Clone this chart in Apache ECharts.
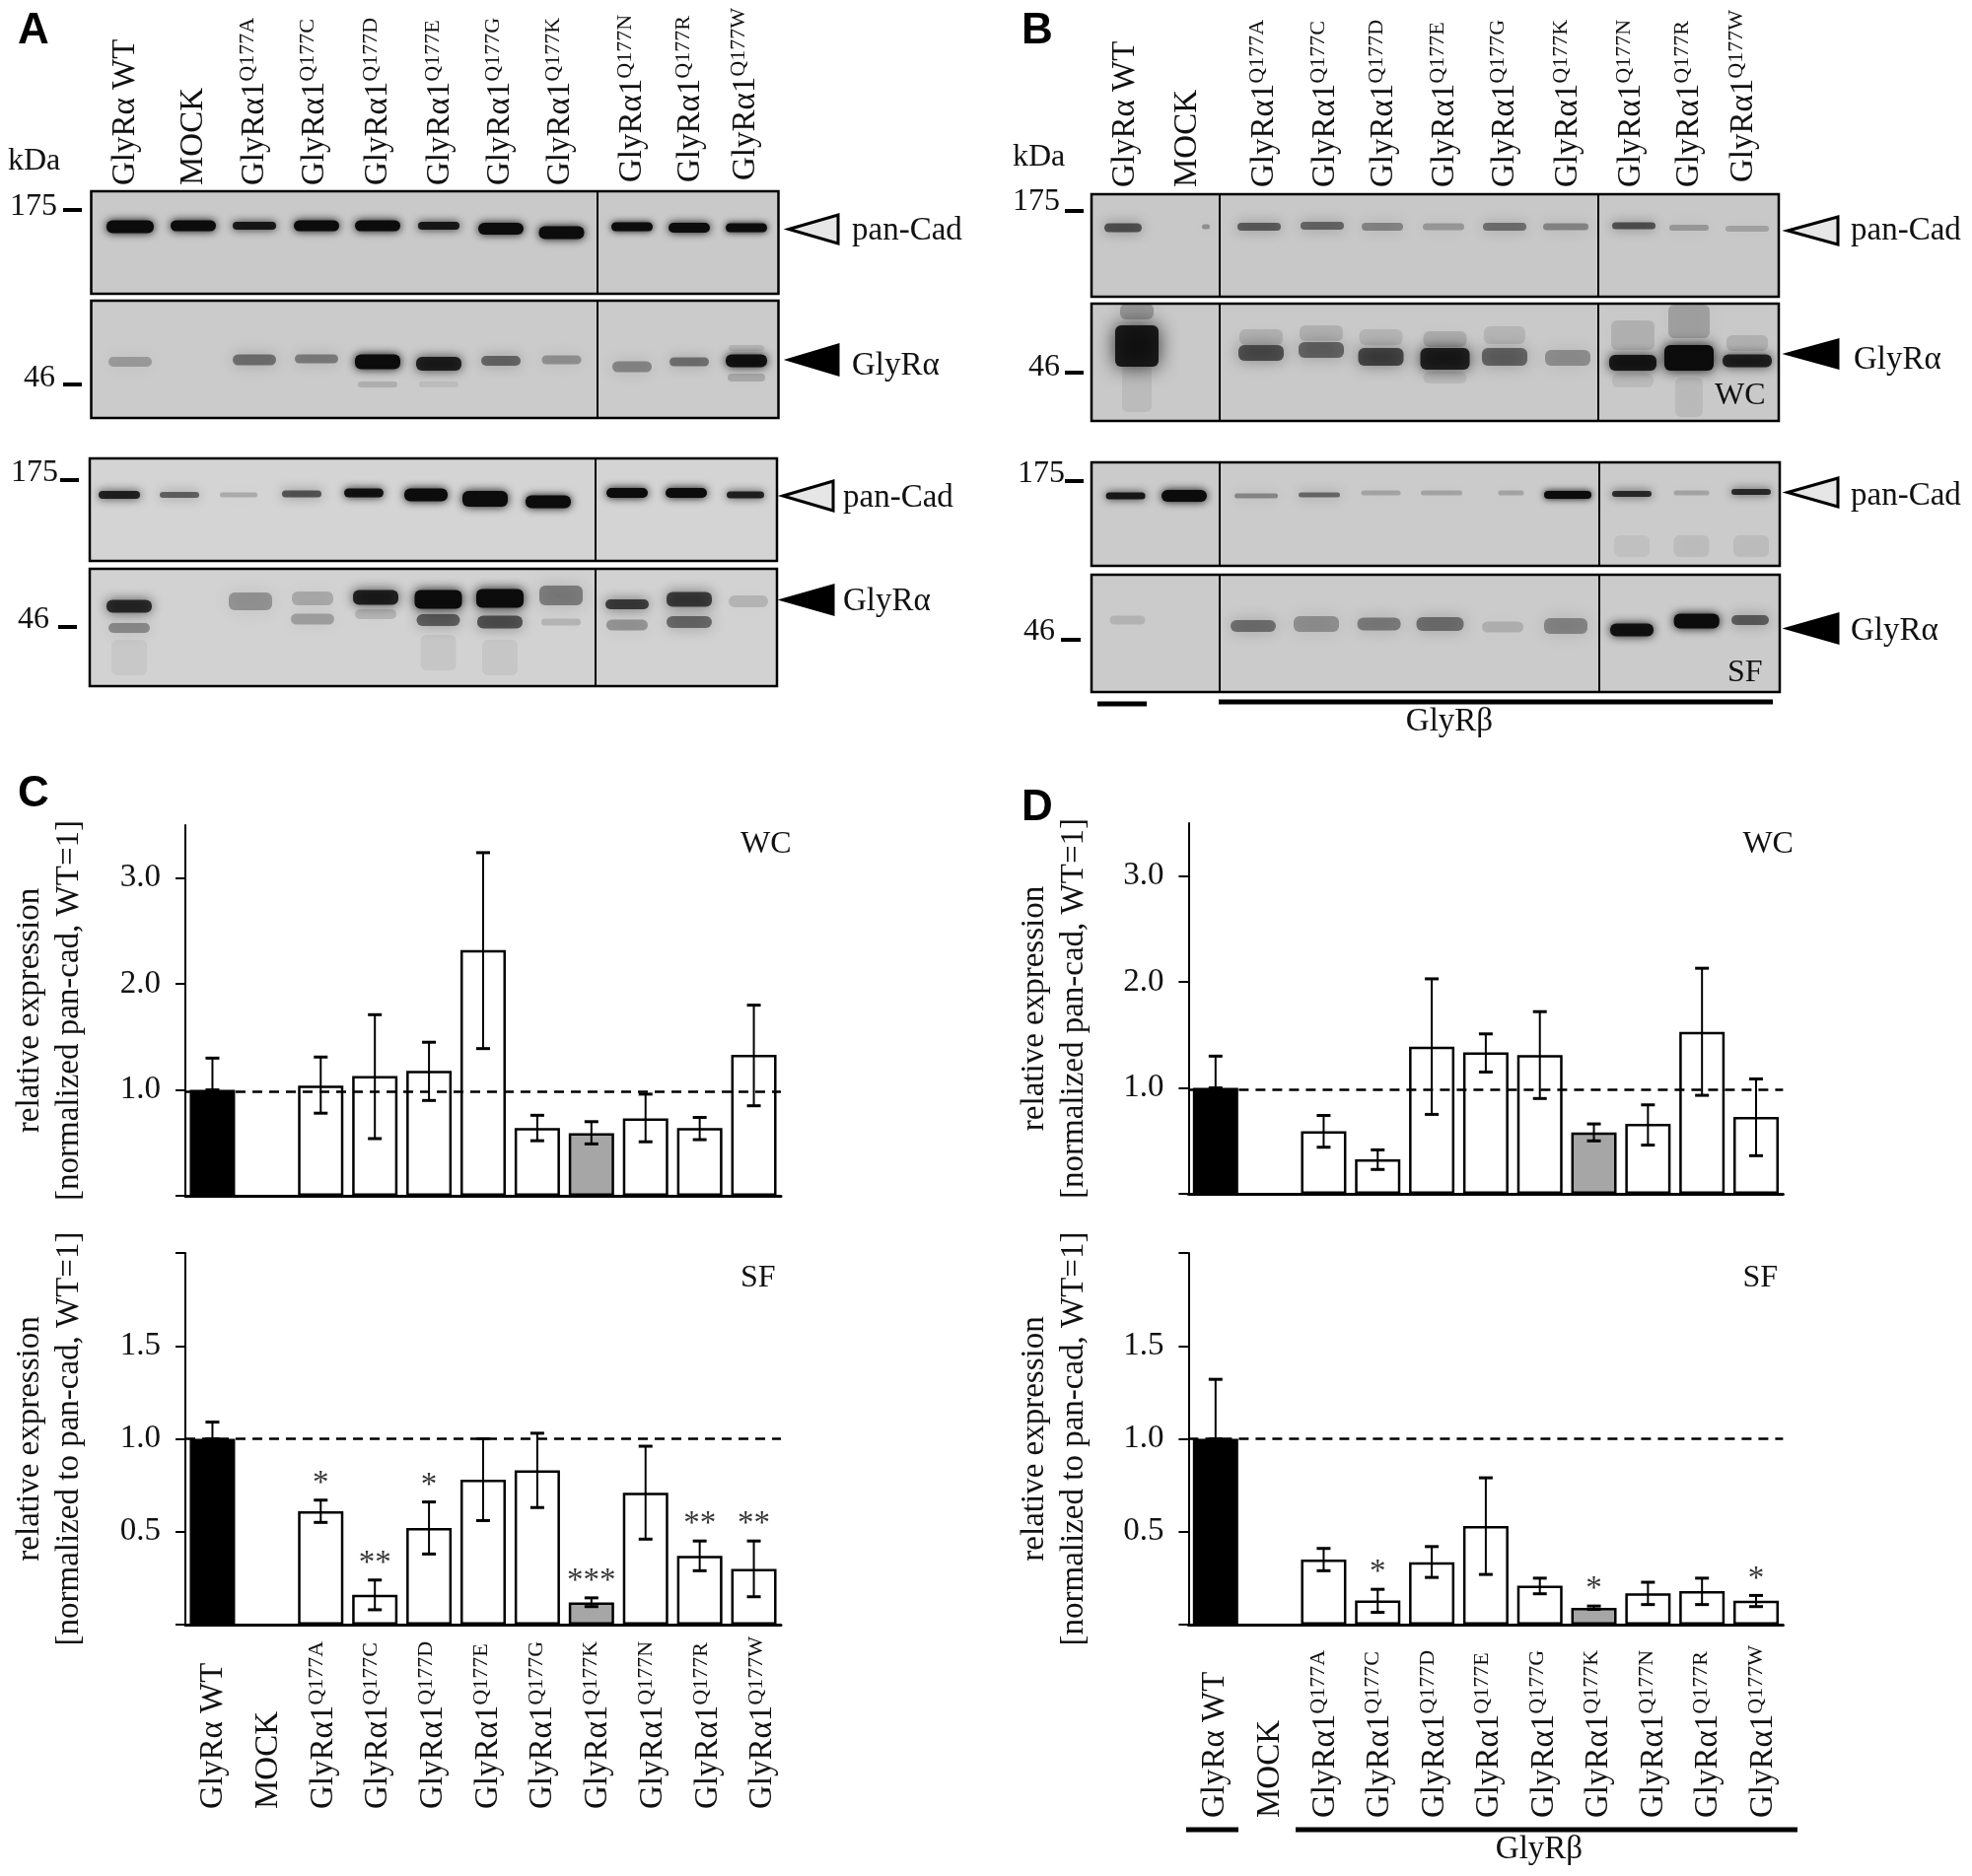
<!DOCTYPE html>
<html>
<head>
<meta charset="utf-8">
<title>GlyR expression</title>
<script src="https://cdn.jsdelivr.net/npm/echarts@6/dist/echarts.min.js"></script>
<style>
  html, body { margin: 0; padding: 0; background: #fff; }
  #main { width: 2000px; height: 1903px; }
</style>
</head>
<body>
<div id="main"></div>
<script>
// categories
const lanes = ['GlyRα WT', 'MOCK', 'Q177A', 'Q177C', 'Q177D', 'Q177E', 'Q177G', 'Q177K', 'Q177N', 'Q177R', 'Q177W'];

// panel C, whole cell
const cWcValue = [1.0, null, 1.04, 1.13, 1.18, 2.32, 0.64, 0.59, 0.73, 0.64, 1.33];
const cWcHi = [1.30, null, 1.31, 1.71, 1.45, 3.24, 0.76, 0.70, 0.96, 0.74, 1.80];
const cWcLo = [1.0, null, 0.78, 0.54, 0.90, 1.39, 0.52, 0.49, 0.51, 0.53, 0.85];
// panel C, surface
const cSfValue = [1.0, null, 0.61, 0.16, 0.52, 0.78, 0.83, 0.12, 0.71, 0.37, 0.30];
const cSfHi = [1.09, null, 0.67, 0.24, 0.66, 1.0, 1.03, 0.144, 0.96, 0.45, 0.45];
const cSfLo = [1.0, null, 0.55, 0.08, 0.38, 0.56, 0.63, 0.097, 0.46, 0.29, 0.15];
const cSfStars = ['', '', '*', '**', '*', '', '', '***', '', '**', '**'];
// panel D, whole cell
const dWcValue = [1.0, null, 0.59, 0.325, 1.39, 1.335, 1.31, 0.58, 0.66, 1.53, 0.725];
const dWcHi = [1.30, null, 0.74, 0.415, 2.03, 1.51, 1.72, 0.66, 0.84, 2.13, 1.085];
const dWcLo = [1.0, null, 0.44, 0.23, 0.75, 1.15, 0.90, 0.50, 0.46, 0.93, 0.36];
// panel D, surface
const dSfValue = [1.0, null, 0.35, 0.13, 0.336, 0.53, 0.21, 0.09, 0.168, 0.18, 0.128];
const dSfHi = [1.32, null, 0.41, 0.19, 0.42, 0.79, 0.25, 0.10, 0.228, 0.25, 0.157];
const dSfLo = [1.0, null, 0.29, 0.066, 0.254, 0.27, 0.166, 0.082, 0.108, 0.108, 0.097];
const dSfStars = ['', '', '', '*', '', '', '', '*', '', '', '*'];

// blot bands: [lane position, migration position, darkness, lane width, band thickness]
const a1Bands = [[39.5,36,1,48,13],[103.5,35,1,46,11],[165.5,35,.9,44,8],[228.5,35,1,46,11],[290.5,35,1,46,11],[352.5,35,.9,42,8],[415.5,38,1,46,12],[477,42,1,46,13],[548.5,36,1,42,9],[606.5,37,1,42,10],[664.5,37,1,42,9]];
const a2Bands = [[39.5,62,.25,44,10],[165.5,60,.45,44,11],[228.5,59,.4,44,9],[290.5,62,1,46,15],[290.5,85,.15,40,6],[352.5,64,.85,46,14],[352.5,85,.08,40,6],[415.5,61,.5,40,10],[477,60,.3,40,9],[548.5,67,.35,40,11],[606.5,62,.45,40,9],[664.5,61,.95,42,13],[664.5,78,.18,38,8],[664.5,48,.1,36,6]];
const a3Bands = [[30,37,.85,42,8],[91,37,.55,40,6],[151,37,.2,38,5],[215,36,.6,40,7],[278,35,.95,40,9],[341,37,1,44,13],[401,41,1,46,16],[465,44,1,46,13],[545,35,1,42,10],[605,35,1,42,10],[665,37,.85,38,7]];
const a4Bands = [[40,38,.8,46,13],[40,60,.35,42,10],[40,90,.05,36,36],[163,33,.3,44,18],[226,30,.2,42,14],[226,51,.25,44,11],[290,29,.85,46,15],[290,46,.15,42,10],[353.5,31,1,48,19],[353.5,52,.55,44,12],[353.5,85,.06,36,36],[416,30,1,48,19],[416,54,.6,46,13],[416,90,.06,36,36],[478,27,.4,44,20],[478,54,.15,40,7],[545,36,.7,44,10],[545,57,.3,42,11],[608,31,.7,46,15],[608,54,.5,46,12],[668,33,.15,40,12]];
const b1Bands = [[32,34,.6,38,9],[116,33,.3,8,5],[170,33,.55,44,8],[234,32,.5,44,8],[295,33,.35,42,8],[357,33,.25,42,7],[419,33,.45,44,8],[481,33,.35,46,7],[550,32,.6,44,7],[606,34,.25,40,6],[665,35,.2,44,6]];
const b2Bands = [[46,43,.9,44,42],[46,8,.25,34,16],[46,85,.07,30,50],[172,50,.6,46,16],[172,34,.12,44,16],[233,47,.5,46,16],[233,30,.12,44,16],[293.5,54,.65,46,18],[293.5,34,.1,44,16],[358.5,56,.85,50,22],[358.5,36,.15,44,16],[358.5,75,.08,44,12],[419,54,.5,46,18],[419,32,.1,42,18],[483,55,.3,46,16],[549,60,.9,48,16],[549,32,.12,44,30],[549,78,.08,42,14],[606,55,1,50,26],[606,18,.2,42,34],[606,95,.08,28,40],[665,58,.85,50,13],[665,40,.12,42,16]];
const b3Bands = [[34.6,34,.9,40,7],[94,34,1,46,12],[167,34,.35,44,5],[231,33,.5,42,5],[293.5,31,.2,40,5],[355,31,.2,42,5],[425.5,31,.2,26,5],[483,33,1,48,8],[548,32,.8,40,6],[608.5,31,.2,36,5],[669,30,.8,40,6],[548,85,.06,36,22],[608.5,85,.08,36,22],[669,85,.08,36,22]];
const b4Bands = [[36.5,46,.12,36,9],[164,52,.45,46,12],[228,50,.3,46,16],[291.6,50,.4,44,13],[353.5,50,.45,48,14],[417,53,.15,42,11],[481,52,.35,44,16],[548,56,.95,44,13],[613.7,47,1,46,15],[668,46,.55,38,10]];

const serif = 'Liberation Serif';
const ink = '#111';
const grids = [], xAxes = [], yAxes = [], series = [], graphic = [];

function text(str, x, y, size, extra) {
  graphic.push(Object.assign({
    type: 'text', x: x, y: y, silent: true,
    style: Object.assign({ text: str, fontFamily: serif, fontSize: size, fill: ink, align: 'left', verticalAlign: 'middle' }, extra || {})
  }));
}

const laneRich = {
  m: { fontFamily: serif, fontSize: 33, color: ink, fill: ink, lineHeight: 36, verticalAlign: 'middle' },
  s: { fontFamily: serif, fontSize: 22, color: ink, fill: ink, lineHeight: 36, verticalAlign: 'top' }
};
function laneText(name) {
  return name.indexOf('Q177') === 0 ? '{m|GlyRα1}{s|' + name + '}' : '{m|' + name + '}';
}

function addGrid(g, x, y) {
  const idx = grids.length;
  grids.push(Object.assign({ outerBoundsMode: 'none' }, g));
  xAxes.push(Object.assign({ gridIndex: idx }, x));
  yAxes.push(Object.assign({ gridIndex: idx }, y));
  return idx;
}

// one bar panel
function barPanel(p) {
  const idx = addGrid(
    { left: p.left, top: p.top, width: p.width, height: p.height },
    {
      type: 'category', data: lanes,
      axisLine: { show: true, onZero: false, lineStyle: { color: '#000', width: 3 } },
      axisTick: { show: false }, axisLabel: { show: false }
    },
    {
      type: 'value', min: 0, max: p.max, interval: p.step,
      name: p.name, nameLocation: 'middle', nameGap: p.nameGap, nameRotate: 90, nameMoveOverlap: false,
      nameTextStyle: { fontFamily: serif, fontSize: 33, color: ink, lineHeight: 40 },
      splitLine: { show: false },
      axisLine: { show: true, lineStyle: { color: '#000', width: 2 } },
      axisTick: { show: true, length: 10, customValues: p.ticks, lineStyle: { color: '#000', width: 2 } },
      axisLabel: {
        customValues: p.labels, margin: 25, fontFamily: serif, fontSize: 33, color: ink,
        formatter: v => v.toFixed(1)
      }
    }
  );
  series.push({
    type: 'bar', xAxisIndex: idx, yAxisIndex: idx, barWidth: 46, animation: false, silent: true,
    data: p.values.map((v, i) => ({
      value: v,
      itemStyle: { color: i === 0 ? '#000' : (lanes[i] === 'Q177K' ? '#a6a6a6' : '#fff'), borderColor: '#000', borderWidth: 2.5 }
    })),
    markLine: {
      silent: true, symbol: 'none', animation: false, label: { show: false },
      lineStyle: { color: '#000', type: [10, 7], width: 2.5 },
      data: [{ yAxis: p.ref }]
    }
  });
  series.push({
    type: 'custom', xAxisIndex: idx, yAxisIndex: idx, animation: false, silent: true, z: 5,
    encode: { x: 0, y: [1, 2] },
    data: p.values.map((v, i) => [i, p.hi[i], p.lo[i]]).filter(d => d[1] !== null),
    renderItem: (params, api) => {
      const hi = api.coord([api.value(0), api.value(1)]);
      const lo = api.coord([api.value(0), api.value(2)]);
      const cap = 7;
      return {
        type: 'group',
        children: [
          { type: 'line', shape: { x1: hi[0], y1: hi[1], x2: lo[0], y2: lo[1] }, style: { stroke: '#000', lineWidth: 2 } },
          { type: 'line', shape: { x1: hi[0] - cap, y1: hi[1], x2: hi[0] + cap, y2: hi[1] }, style: { stroke: '#000', lineWidth: 3 } },
          { type: 'line', shape: { x1: lo[0] - cap, y1: lo[1], x2: lo[0] + cap, y2: lo[1] }, style: { stroke: '#000', lineWidth: 3 } }
        ]
      };
    }
  });
  if (p.stars) {
    series.push({
      type: 'scatter', xAxisIndex: idx, yAxisIndex: idx, animation: false, silent: true, symbolSize: 0,
      data: p.stars.map((s, i) => [i, p.hi[i], s]).filter(d => d[2]),
      label: {
        show: true, position: 'top', distance: 0, fontFamily: serif, fontSize: 33, color: '#000',
        formatter: o => o.value[2]
      }
    });
  }
  text(p.tag, p.left + p.width - 41, p.top + p.tagDy, 32);
}

// rotated lane names under a bar panel, on their own category axis
function laneAxis(left, width, bottom) {
  addGrid(
    { left: left, top: bottom - 10, width: width, height: 1 },
    {
      type: 'category', data: lanes,
      axisLine: { show: false }, axisTick: { show: false },
      axisLabel: {
        interval: 0, rotate: 90, align: 'left', verticalAlign: 'middle', margin: 9, hideOverlap: false,
        formatter: laneText, rich: laneRich
      }
    },
    { type: 'value', show: false, min: 0, max: 1 }
  );
}

// one blot strip
function blot(left, top, width, height, bg, bands, dividers) {
  const idx = addGrid(
    { show: true, left: left, top: top, width: width, height: height, backgroundColor: bg, borderColor: '#000', borderWidth: 2.5 },
    { type: 'value', show: false, min: 0, max: width },
    { type: 'value', show: false, min: 0, max: height, inverse: true }
  );
  series.push({
    type: 'custom', xAxisIndex: idx, yAxisIndex: idx, animation: false, silent: true, clip: true,
    encode: { x: 0, y: 1 },
    data: bands,
    renderItem: (params, api) => {
      const c = api.coord([api.value(0), api.value(1)]);
      const s = api.size([api.value(3), api.value(4)]);
      const d = api.value(2);
      const col = 'rgba(12,12,12,' + d + ')';
      return {
        type: 'rect',
        shape: { x: c[0] - s[0] / 2, y: c[1] - s[1] / 2, width: s[0], height: s[1], r: Math.min(s[1] / 2, 6) },
        style: { fill: col, shadowBlur: 5 + s[1] * 0.3 + (1 - d) * 12, shadowColor: col }
      };
    },
    markLine: {
      silent: true, symbol: 'none', animation: false, label: { show: false },
      lineStyle: { color: '#000', type: 'solid', width: 2 },
      data: dividers.map(v => ({ xAxis: v }))
    }
  });
}

function arrow(tipX, baseX, y0, y1, filled) {
  graphic.push({
    type: 'polygon', silent: true,
    shape: { points: [[tipX, (y0 + y1) / 2], [baseX, y0], [baseX, y1]] },
    style: { fill: filled ? '#000' : '#e6e6e6', stroke: '#000', lineWidth: 3 }
  });
}
function dash(x0, x1, y, h) {
  graphic.push({ type: 'rect', silent: true, shape: { x: x0, y: y - h / 2, width: x1 - x0, height: h }, style: { fill: '#000' } });
}
function vertLabel(name, x, bottom) {
  graphic.push({
    type: 'text', x: x, y: bottom, rotation: Math.PI / 2, silent: true,
    style: { text: laneText(name), rich: laneRich, align: 'left', verticalAlign: 'middle' }
  });
}

// blots, panel A and B
blot(92.5, 194, 697, 104, '#c9c9c9', a1Bands, [513.5]);
blot(92.5, 305, 697, 119, '#cbcbcb', a2Bands, [513.5]);
blot(91, 465, 697, 104, '#d4d4d4', a3Bands, [513]);
blot(91, 577, 697, 119, '#d2d2d2', a4Bands, [513]);
blot(1107, 197, 697, 104, '#c8c8c8', b1Bands, [130, 514]);
blot(1107, 308, 697, 119, '#c9c9c9', b2Bands, [130, 514]);
blot(1107, 469, 698, 105, '#cbcbcb', b3Bands, [130, 515]);
blot(1107, 583, 698, 119, '#cbcbcb', b4Bands, [130, 515]);

// bar panels
const nameWc = 'relative expression\n[normalized pan-cad, WT=1]';
const nameSf = 'relative expression\n[normalized to pan-cad, WT=1]';
barPanel({ left: 188, top: 837, width: 604, height: 376, max: 3.5, step: 1, ticks: [0, 1, 2, 3], labels: [1, 2, 3], values: cWcValue, hi: cWcHi, lo: cWcLo, ref: 0.98, name: nameWc, nameGap: 98, tag: 'WC', tagDy: 20 });
barPanel({ left: 188, top: 1271, width: 604, height: 377, max: 2, step: 0.5, ticks: [0, 0.5, 1, 1.5, 2], labels: [0.5, 1, 1.5], values: cSfValue, hi: cSfHi, lo: cSfLo, ref: 1, name: nameSf, nameGap: 98, tag: 'SF', tagDy: 26, stars: cSfStars });
barPanel({ left: 1205.4, top: 835, width: 603, height: 376, max: 3.5, step: 1, ticks: [0, 1, 2, 3], labels: [1, 2, 3], values: dWcValue, hi: dWcHi, lo: dWcLo, ref: 0.985, name: nameWc, nameGap: 96, tag: 'WC', tagDy: 22 });
barPanel({ left: 1205.4, top: 1271, width: 603, height: 377, max: 2, step: 0.5, ticks: [0, 0.5, 1, 1.5, 2], labels: [0.5, 1, 1.5], values: dSfValue, hi: dSfHi, lo: dSfLo, ref: 1, name: nameSf, nameGap: 96, tag: 'SF', tagDy: 26, stars: dSfStars });
laneAxis(188.6, 613, 1835);
laneAxis(1205, 611, 1844);

// panel letters
[['A', 18, 32], ['B', 1036, 32], ['C', 18, 806], ['D', 1036, 820]].forEach(l => {
  text(l[0], l[1], l[2], 44, { fontFamily: 'Liberation Sans', fontWeight: 'bold', fill: '#000' });
});

// lane names above the blots
const aLaneX = [127.5, 196, 258, 319, 383, 446, 507, 568, 641, 700, 756];
const aLaneBottom = [188, 188, 188, 188, 188, 188, 188, 188, 185, 185, 183];
const bLaneX = [1141.6, 1204, 1282, 1344, 1403, 1465.5, 1526, 1590, 1654, 1713, 1768.5];
const bLaneBottom = [190, 190, 190, 190, 190, 190, 190, 190, 190, 190, 185];
lanes.forEach((n, i) => {
  vertLabel(n, aLaneX[i], aLaneBottom[i]);
  vertLabel(n, bLaneX[i], bLaneBottom[i]);
});

// size markers
text('kDa', 8, 164, 32);
text('kDa', 1027, 160, 32);
[['175', 10, 210, 64, 83, 213], ['46', 24, 384, 64, 83, 390], ['175', 11, 480, 61, 80, 487], ['46', 18, 629, 59, 78, 636],
 ['175', 1027, 205, 1080, 1099, 214], ['46', 1043, 373, 1080, 1099, 378], ['175', 1032, 481, 1080, 1099, 488], ['46', 1038, 641, 1076, 1096, 649]].forEach(m => {
  text(m[0], m[1], m[2], 32);
  dash(m[3], m[4], m[5], 4);
});

// arrows and their names
arrow(800, 850, 218, 247, false); text('pan-Cad', 864, 234, 33);
arrow(800, 850, 350, 380, true); text('GlyRα', 864, 371, 33);
arrow(794, 845, 488, 518, false); text('pan-Cad', 855, 505, 33);
arrow(794, 845, 594, 623, true); text('GlyRα', 855, 610, 33);
arrow(1813, 1864, 220, 248, false); text('pan-Cad', 1877, 234, 33);
arrow(1813, 1864, 345, 373, true); text('GlyRα', 1880, 365, 33);
arrow(1813, 1864, 485, 514, false); text('pan-Cad', 1877, 503, 33);
arrow(1813, 1864, 623, 652, true); text('GlyRα', 1877, 640, 33);

// blot tags and beta bars
text('WC', 1739, 402, 32);
text('SF', 1752, 683, 32);
dash(1113, 1163, 714, 5);
dash(1236, 1798, 712, 5);
text('GlyRβ', 1470, 732, 33, { align: 'center' });
dash(1203, 1256, 1856, 5);
dash(1314, 1823, 1856, 5);
text('GlyRβ', 1561, 1876, 33, { align: 'center' });

const chart = echarts.init(document.getElementById('main'));
chart.setOption({
  animation: false,
  backgroundColor: '#fff',
  grid: grids,
  xAxis: xAxes,
  yAxis: yAxes,
  series: series,
  graphic: { elements: graphic }
});
</script>
</body>
</html>
